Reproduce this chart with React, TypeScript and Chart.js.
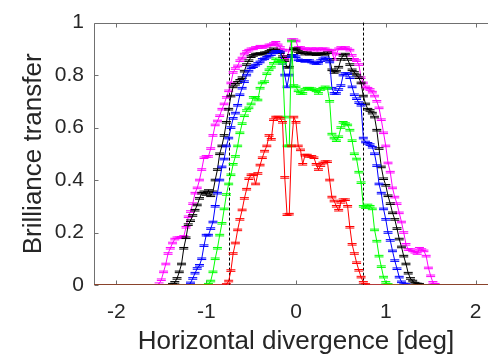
import { useEffect, useRef } from "react";
import { Chart, registerables } from "chart.js";

Chart.register(...registerables);

// Horizontal divergence sampling grid [deg]
const X_DEG = [
  -1.6, -1.575, -1.55, -1.525, -1.5, -1.475, -1.45, -1.425, -1.4, -1.375,
  -1.35, -1.325, -1.3, -1.275, -1.25, -1.225, -1.2, -1.175, -1.15, -1.125,
  -1.1, -1.075, -1.05, -1.025, -1.0, -0.975, -0.95, -0.925, -0.9, -0.875,
  -0.85, -0.825, -0.8, -0.775, -0.75, -0.725, -0.7, -0.675, -0.65, -0.625,
  -0.6, -0.575, -0.55, -0.525, -0.5, -0.475, -0.45, -0.425, -0.4, -0.375,
  -0.35, -0.325, -0.3, -0.275, -0.25, -0.225, -0.2, -0.175, -0.15, -0.125,
  -0.1, -0.075, -0.05, -0.025, 0.0, 0.025, 0.05, 0.075, 0.1, 0.125,
  0.15, 0.175, 0.2, 0.225, 0.25, 0.275, 0.3, 0.325, 0.35, 0.375,
  0.4, 0.425, 0.45, 0.475, 0.5, 0.525, 0.55, 0.575, 0.6, 0.625,
  0.65, 0.675, 0.7, 0.725, 0.75, 0.775, 0.8, 0.825, 0.85, 0.875,
  0.9, 0.925, 0.95, 0.975, 1.0, 1.025, 1.05, 1.075, 1.1, 1.125,
  1.15, 1.175, 1.2, 1.225, 1.25, 1.275, 1.3, 1.325, 1.35, 1.375,
  1.4, 1.425, 1.45, 1.475, 1.5, 1.525, 1.55, 1.575, 1.6,
];

const MAGENTA = [
  0, 0, 0, 0.005, 0.02, 0.05, 0.08, 0.12, 0.14, 0.16,
  0.175, 0.18, 0.18, 0.182, 0.185, 0.22, 0.26, 0.28, 0.31, 0.35,
  0.37, 0.4, 0.44, 0.485, 0.49, 0.49, 0.52, 0.57, 0.61, 0.625,
  0.645, 0.67, 0.69, 0.715, 0.74, 0.77, 0.81, 0.825, 0.835, 0.855,
  0.865, 0.88, 0.89, 0.895, 0.9, 0.9, 0.905, 0.905, 0.91, 0.905,
  0.91, 0.91, 0.915, 0.915, 0.92, 0.925, 0.915, 0.905, 0.895, 0.86,
  0.87, 0.895, 0.935, 0.935, 0.93, 0.905, 0.905, 0.9, 0.9, 0.895,
  0.9, 0.9, 0.895, 0.9, 0.9, 0.895, 0.9, 0.9, 0.895, 0.895,
  0.89, 0.86, 0.88, 0.9, 0.905, 0.9, 0.905, 0.9, 0.895, 0.875,
  0.86, 0.855, 0.84, 0.79, 0.77, 0.755, 0.75, 0.745, 0.735, 0.72,
  0.7, 0.675, 0.63, 0.58, 0.53, 0.465, 0.43, 0.37, 0.335, 0.31,
  0.275, 0.24, 0.2, 0.155, 0.135, 0.135, 0.13, 0.125, 0.12, 0.14,
  0.135, 0.13, 0.11, 0.065, 0.035, 0.01, 0.003, 0, 0,
];

const BLACK = [
  0, 0, 0, 0, 0, 0, 0, 0, 0, 0.003,
  0.01, 0.025, 0.05, 0.08, 0.14, 0.18, 0.23, 0.245, 0.265, 0.285,
  0.305, 0.33, 0.35, 0.355, 0.345, 0.36, 0.34, 0.355, 0.4, 0.44,
  0.5, 0.53, 0.57, 0.62, 0.67, 0.72, 0.755, 0.765, 0.772, 0.78,
  0.79, 0.815, 0.84, 0.855, 0.87, 0.875, 0.88, 0.88, 0.882, 0.88,
  0.885, 0.885, 0.89, 0.895, 0.9, 0.895, 0.89, 0.885, 0.87, 0.855,
  0.83, 0.83, 0.875, 0.9, 0.9, 0.89, 0.885, 0.885, 0.88, 0.885,
  0.88, 0.882, 0.88, 0.878, 0.88, 0.882, 0.88, 0.88, 0.885, 0.86,
  0.82, 0.81, 0.815, 0.83, 0.86, 0.875, 0.88, 0.86, 0.84, 0.82,
  0.81, 0.8, 0.79, 0.77, 0.72, 0.69, 0.67, 0.665, 0.655, 0.64,
  0.59, 0.52, 0.45, 0.405, 0.38, 0.34, 0.31, 0.275, 0.25, 0.215,
  0.175, 0.145, 0.11, 0.08, 0.045, 0.025, 0.015, 0.007, 0.004, 0.003,
  0, 0, 0, 0, 0, 0, 0, 0, 0,
];

const BLUE = [
  0, 0, 0, 0, 0, 0, 0, 0, 0, 0,
  0, 0, 0, 0, 0, 0, 0, 0.008, 0.025, 0.045,
  0.063, 0.075, 0.1, 0.15, 0.19, 0.19, 0.215, 0.24, 0.3, 0.35,
  0.4, 0.45, 0.48, 0.53, 0.56, 0.6, 0.635, 0.655, 0.685, 0.725,
  0.75, 0.775, 0.8, 0.815, 0.828, 0.832, 0.838, 0.844, 0.85, 0.86,
  0.862, 0.868, 0.872, 0.878, 0.885, 0.89, 0.89, 0.888, 0.845, 0.8,
  0.755, 0.8, 0.87, 0.875, 0.87, 0.858, 0.855, 0.855, 0.852, 0.856,
  0.855, 0.85, 0.846, 0.844, 0.845, 0.855, 0.862, 0.866, 0.86, 0.85,
  0.75, 0.73, 0.73, 0.745, 0.76, 0.8, 0.806, 0.805, 0.79, 0.755,
  0.725, 0.71, 0.695, 0.685, 0.56, 0.545, 0.54, 0.535, 0.525, 0.5,
  0.455, 0.385, 0.35, 0.29, 0.25, 0.2, 0.17, 0.13, 0.093, 0.062,
  0.03, 0.012, 0.004, 0.002, 0, 0, 0, 0, 0, 0,
  0, 0, 0, 0, 0, 0, 0, 0, 0,
];

const GREEN = [
  0, 0, 0, 0, 0, 0, 0, 0, 0, 0,
  0, 0, 0, 0, 0, 0, 0, 0, 0, 0,
  0, 0, 0, 0, 0, 0.003, 0.015, 0.05, 0.1, 0.14,
  0.19, 0.235, 0.29, 0.345, 0.385, 0.42, 0.46, 0.49, 0.53, 0.58,
  0.615, 0.645, 0.665, 0.675, 0.69, 0.715, 0.715, 0.705, 0.75, 0.77,
  0.775, 0.805, 0.82, 0.83, 0.845, 0.862, 0.855, 0.855, 0.845, 0.64,
  0.53, 0.53, 0.93, 0.76, 0.755, 0.74, 0.73, 0.73, 0.745, 0.75,
  0.75, 0.748, 0.744, 0.74, 0.73, 0.745, 0.75, 0.755, 0.75, 0.7,
  0.575, 0.56, 0.55, 0.565, 0.6, 0.62, 0.615, 0.61, 0.59, 0.55,
  0.5, 0.48, 0.43, 0.39, 0.3, 0.295, 0.305, 0.3, 0.29, 0.21,
  0.167, 0.11, 0.07, 0.03, 0.01, 0.002, 0, 0, 0, 0,
  0, 0, 0, 0, 0, 0, 0, 0, 0, 0,
  0, 0, 0, 0, 0, 0, 0, 0, 0,
];

const RED = [
  0, 0, 0, 0, 0, 0, 0, 0, 0, 0,
  0, 0, 0, 0, 0, 0, 0, 0, 0, 0,
  0, 0, 0, 0, 0, 0, 0, 0, 0, 0,
  0, 0, 0, 0.002, 0.015, 0.055, 0.12, 0.16, 0.21, 0.25,
  0.286, 0.33, 0.365, 0.405, 0.42, 0.42, 0.385, 0.425, 0.457, 0.485,
  0.51, 0.53, 0.57, 0.555, 0.63, 0.64, 0.64, 0.635, 0.62, 0.41,
  0.268, 0.27, 0.53, 0.64, 0.62, 0.53, 0.515, 0.46, 0.495, 0.495,
  0.49, 0.49, 0.485, 0.46, 0.44, 0.455, 0.465, 0.47, 0.47, 0.4,
  0.335, 0.32, 0.3, 0.285, 0.315, 0.325, 0.325, 0.3, 0.22, 0.155,
  0.12, 0.085, 0.056, 0.03, 0.01, 0.002, 0, 0, 0, 0,
  0, 0, 0, 0, 0, 0, 0, 0, 0, 0,
  0, 0, 0, 0, 0, 0, 0, 0, 0, 0,
  0, 0, 0, 0, 0, 0, 0, 0, 0,
];

const SERIES = [
  { name: "red", color: "#ff0000", values: RED },
  { name: "green", color: "#00ff00", values: GREEN },
  { name: "blue", color: "#0000ff", values: BLUE },
  { name: "black", color: "#000000", values: BLACK },
  { name: "magenta", color: "#ff00ff", values: MAGENTA },
];

const X_MIN = -2.25;
const X_MAX = 2.25;
const Y_MIN = 0;
const Y_MAX = 1;
const X_TICKS = [-2, -1, 0, 1, 2];
const Y_TICKS = [0, 0.2, 0.4, 0.6, 0.8, 1];
const MARKER_LINES = [-0.75, 0.75];
const ERR = 0.003;

const FONT_FAMILY = 'Helvetica, "Liberation Sans", Arial, sans-serif';
const TEXT_COLOR = "#262626";
const AXIS_COLOR = "#707070";
const CAP_HALF = 4.5;
const TICK_LEN = 4;

const errorBarPlugin = {
  id: "errorBars",
  afterDatasetDraw(chart: any, args: any) {
    const ds = chart.data.datasets[args.index];
    const meta = args.meta;
    const ctx = chart.ctx;
    const ys = chart.scales.y;
    const a = chart.chartArea;
    ctx.save();
    ctx.beginPath();
    ctx.rect(a.left, a.top - 6, a.right - a.left, a.bottom - a.top + 6);
    ctx.clip();
    ctx.strokeStyle = ds.borderColor;
    ctx.lineWidth = 1;
    ctx.beginPath();
    meta.data.forEach((pt: any, i: number) => {
      const v = ds.data[i].y;
      if (!(v > 0)) return;
      const yt = ys.getPixelForValue(v + ERR);
      const yb = ys.getPixelForValue(v - ERR);
      ctx.moveTo(pt.x, yt);
      ctx.lineTo(pt.x, yb);
      ctx.moveTo(pt.x - CAP_HALF, yt);
      ctx.lineTo(pt.x + CAP_HALF, yt);
      ctx.moveTo(pt.x - CAP_HALF, yb);
      ctx.lineTo(pt.x + CAP_HALF, yb);
    });
    ctx.stroke();
    ctx.restore();
  },
};

const framePlugin = {
  id: "frame",
  beforeDatasetsDraw(chart: any) {
    const ctx = chart.ctx;
    const a = chart.chartArea;
    const xs = chart.scales.x;
    const ys = chart.scales.y;
    const L = Math.round(a.left) + 0.5;
    const R = Math.round(a.right) - 0.5;
    const T = Math.round(a.top) + 0.5;
    const B = Math.round(a.bottom) - 0.5;
    ctx.save();
    ctx.strokeStyle = AXIS_COLOR;
    ctx.lineWidth = 1;
    ctx.beginPath();
    ctx.rect(L, T, R - L, B - T);
    X_TICKS.forEach((v) => {
      const px = Math.round(xs.getPixelForValue(v)) + 0.5;
      ctx.moveTo(px, B);
      ctx.lineTo(px, B - TICK_LEN);
      ctx.moveTo(px, T);
      ctx.lineTo(px, T + TICK_LEN);
    });
    Y_TICKS.forEach((v) => {
      const py = Math.round(ys.getPixelForValue(v)) + 0.5;
      ctx.moveTo(L, py);
      ctx.lineTo(L + TICK_LEN, py);
      ctx.moveTo(R, py);
      ctx.lineTo(R - TICK_LEN, py);
    });
    ctx.stroke();
    // dashed reference lines
    ctx.strokeStyle = "#000000";
    ctx.setLineDash([3, 2]);
    ctx.beginPath();
    MARKER_LINES.forEach((v) => {
      const px = Math.round(xs.getPixelForValue(v)) + 0.5;
      ctx.moveTo(px, a.top);
      ctx.lineTo(px, a.bottom);
    });
    ctx.stroke();
    ctx.restore();
  },
};

export default function App() {
  const ref = useRef<HTMLCanvasElement | null>(null);

  useEffect(() => {
    if (!ref.current) return;
    const datasets = SERIES.map((s) => ({
      label: s.name,
      data: [
        { x: X_MIN, y: 0 },
        ...X_DEG.map((x, i) => ({ x, y: s.values[i] })),
        { x: X_MAX, y: 0 },
      ],
      borderColor: s.color,
      backgroundColor: s.color,
      borderWidth: 1,
      pointRadius: 0,
      tension: 0,
      fill: false,
    }));
    const tickFont = { family: FONT_FAMILY, size: 21 };
    const titleFont = { family: FONT_FAMILY, size: 26 };
    const chart = new Chart(ref.current, {
      type: "line",
      data: { datasets },
      options: {
        responsive: false,
        animation: false,
        devicePixelRatio: 1,
        layout: { padding: { left: 0, top: 16, right: 2, bottom: 0 } },
        plugins: {
          legend: { display: false },
          tooltip: { enabled: false },
        },
        scales: {
          x: {
            type: "linear",
            min: X_MIN,
            max: X_MAX,
            grid: { display: false, drawTicks: false },
            border: { display: false },
            afterBuildTicks: (s: any) => {
              s.ticks = X_TICKS.map((v) => ({ value: v }));
            },
            afterFit: (s: any) => {
              s.height = 75;
            },
            ticks: {
              font: tickFont,
              color: TEXT_COLOR,
              padding: 15,
              maxRotation: 0,
              autoSkip: false,
              callback: (v: any) => String(v),
            },
            title: {
              display: true,
              text: "Horizontal divergence [deg]",
              font: titleFont,
              color: TEXT_COLOR,
              padding: { top: 0, bottom: 3 },
            },
          },
          y: {
            type: "linear",
            min: Y_MIN,
            max: Y_MAX,
            grid: { display: false, drawTicks: false },
            border: { display: false },
            afterBuildTicks: (s: any) => {
              s.ticks = Y_TICKS.map((v) => ({ value: v }));
            },
            afterFit: (s: any) => {
              s.width = 94;
            },
            ticks: {
              font: tickFont,
              color: TEXT_COLOR,
              padding: 10,
              autoSkip: false,
              callback: (v: any) => String(v),
            },
            title: {
              display: true,
              text: "Brilliance transfer",
              font: titleFont,
              color: TEXT_COLOR,
              padding: { top: 18, bottom: 0 },
            },
          },
        },
      },
      plugins: [framePlugin, errorBarPlugin],
    });
    return () => chart.destroy();
  }, []);

  return (
    <div
      style={{
        position: "absolute",
        left: 0,
        top: 0,
        width: 488,
        height: 354,
        overflow: "hidden",
        background: "#ffffff",
      }}
    >
      <canvas ref={ref} width={500} height={360} style={{ display: "block" }} />
    </div>
  );
}
